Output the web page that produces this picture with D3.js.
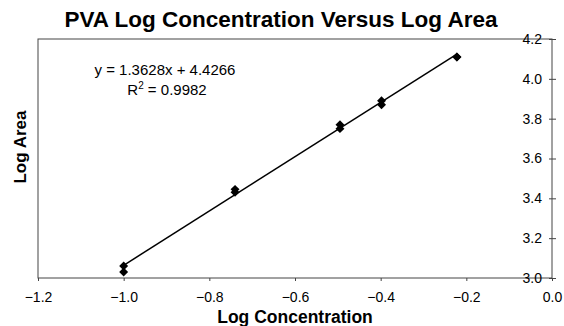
<!DOCTYPE html>
<html>
<head>
<meta charset="utf-8">
<script src="https://cdn.jsdelivr.net/npm/d3@7"></script>
<style>
  html, body { margin: 0; padding: 0; background: #fff; }
  svg { display: block; font-family: "Liberation Sans", Arial, sans-serif; }
</style>
</head>
<body>
<script>
const W = 564;
const H = 326;

// data
const logConc = [-1.0, -1.0, -0.74, -0.74, -0.495, -0.495, -0.398, -0.398, -0.222, -0.222];
const logArea = [3.06, 3.03, 3.445, 3.43, 3.77, 3.75, 3.89, 3.87, 4.11, 4.11];
const xTicks = [-1.2, -1.0, -0.8, -0.6, -0.4, -0.2, 0.0];
const yTicks = [3.0, 3.2, 3.4, 3.6, 3.8, 4.0, 4.2];
const slope = 1.3628;
const intercept = 4.4266;
const fitLabels = ["y = 1.3628x + 4.4266", "R² = 0.9982"];

const margin = {top: 39, right: 12, bottom: 48, left: 38};
const tickFont = 14;

const x = d3.scaleLinear().domain([-1.2, 0]).range([margin.left, W - margin.right]);
const y = d3.scaleLinear().domain([3.0, 4.2]).range([H - margin.bottom, margin.top]);

const svg = d3.select("body").append("svg")
  .attr("width", W)
  .attr("height", H)
  .attr("viewBox", `0 0 ${W} ${H}`);

// title
svg.append("text")
  .attr("x", 281).attr("y", 27)
  .attr("text-anchor", "middle")
  .attr("font-weight", "bold")
  .attr("font-size", 22.5)
  .text("PVA Log Concentration Versus Log Area");

// plot frame
svg.append("rect")
  .attr("x", x(-1.2)).attr("y", y(4.2))
  .attr("width", x(0) - x(-1.2)).attr("height", y(3.0) - y(4.2))
  .attr("fill", "none").attr("stroke", "#444").attr("stroke-width", 1);

// x axis ticks + labels
const xAxis = d3.axisBottom(x).tickValues(xTicks).tickSize(3).tickPadding(11).tickFormat(d3.format(".1f"));
const gx = svg.append("g").attr("transform", `translate(0,${y(3.0)})`).call(xAxis);
gx.select(".domain").remove();
gx.selectAll(".tick line").attr("stroke", "#444");
gx.selectAll(".tick text")
  .attr("font-family", "Liberation Sans, Arial, sans-serif")
  .attr("font-size", tickFont).attr("fill", "#000");

// y axis sits on the right edge (x = 0), labels inside
const yAxis = d3.axisLeft(y).tickValues(yTicks).tickSize(0).tickPadding(10).tickFormat(d3.format(".1f"));
const gy = svg.append("g").attr("transform", `translate(${x(0)},0)`).call(yAxis);
gy.select(".domain").remove();
gy.selectAll(".tick text")
  .attr("font-family", "Liberation Sans, Arial, sans-serif")
  .attr("font-size", tickFont).attr("fill", "#000");
gy.selectAll(".tick").append("line")
  .attr("x1", -3).attr("x2", 4).attr("stroke", "#444");

// axis titles
svg.append("text")
  .attr("x", x(-0.6)).attr("y", 322.5)
  .attr("text-anchor", "middle")
  .attr("font-weight", "bold").attr("font-size", 17.5)
  .text("Log Concentration");

svg.append("text")
  .attr("transform", `translate(26,147) rotate(-90)`)
  .attr("text-anchor", "middle")
  .attr("font-weight", "bold").attr("font-size", 17)
  .text("Log Area");

// trend line
const xMin = d3.min(logConc), xMax = d3.max(logConc);
svg.append("line")
  .attr("x1", x(xMin)).attr("y1", y(slope * xMin + intercept))
  .attr("x2", x(xMax)).attr("y2", y(slope * xMax + intercept))
  .attr("stroke", "#000").attr("stroke-width", 1.5);

// points (square turned 45deg gives the wide Excel diamond)
const diamond = d3.symbol().type(d3.symbolSquare).size(40);
svg.append("g").selectAll("path")
  .data(logConc.map((c, i) => [c, logArea[i]]))
  .join("path")
  .attr("d", diamond)
  .attr("transform", d => `translate(${x(d[0])},${y(d[1])}) rotate(45)`)
  .attr("fill", "#000");

// equation
svg.append("text")
  .attr("x", 165).attr("y", 75)
  .attr("text-anchor", "middle").attr("font-size", 15)
  .text(fitLabels[0]);
const r2 = svg.append("text")
  .attr("x", 167).attr("y", 95)
  .attr("text-anchor", "middle").attr("font-size", 15);
r2.append("tspan").text("R");
r2.append("tspan").attr("font-size", 10).attr("dy", -6).text("2");
r2.append("tspan").attr("dy", 6).text(" = 0.9982");
</script>
</body>
</html>
